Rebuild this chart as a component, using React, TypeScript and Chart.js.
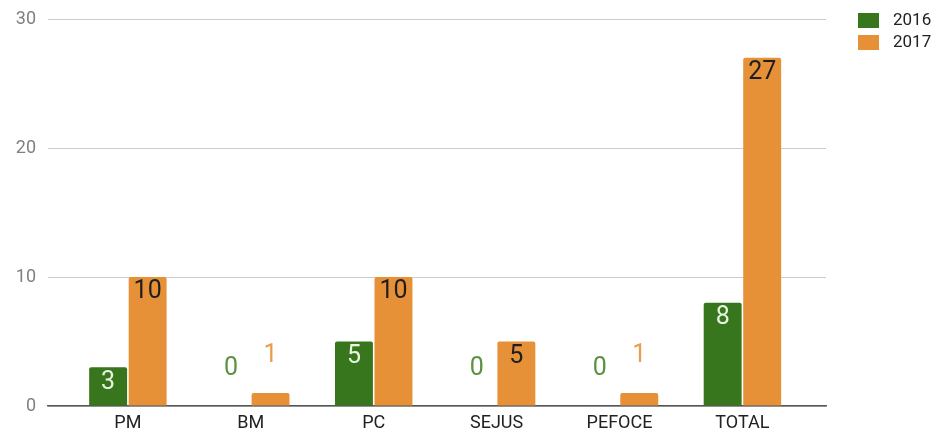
import React, { useEffect, useRef } from "react";
import { Chart, registerables } from "chart.js";

Chart.register(...registerables);

const categories = ["PM", "BM", "PC", "SEJUS", "PEFOCE", "TOTAL"];
const values2016 = [3, 0, 5, 0, 0, 8];
const values2017 = [10, 1, 10, 5, 1, 27];
const seriesNames = ["2016", "2017"];
const yMin = 0;
const yMax = 30;
const yStep = 10;

const barColors = ["#38761d", "#e69138"];
const insideLabelColors = ["#e8f3e0", "#1e1e1e"];
const outsideLabelColors = ["#5b9141", "#eb9d4e"];

const W = 939;
const H = 440;

const valueLabelPlugin = {
  id: "valueLabels",
  afterDatasetsDraw(chart: any) {
    const ctx = chart.ctx;
    chart.data.datasets.forEach((ds: any, di: number) => {
      const meta = chart.getDatasetMeta(di);
      meta.data.forEach((el: any, i: number) => {
        const v = ds.data[i].y;
        const { x, y, base } = el.getProps(["x", "y", "base"], true);
        const h = base - y;
        ctx.save();
        ctx.font = "25px Roboto";
        ctx.textAlign = "center";
        ctx.textBaseline = "middle";
        if (h >= 30) {
          ctx.fillStyle = insideLabelColors[di];
          ctx.fillText(String(v), x, y + 15);
        } else {
          ctx.fillStyle = outsideLabelColors[di];
          ctx.fillText(String(v), x, y - 37);
        }
        ctx.restore();
      });
    });
  },
};

const legendPlugin = {
  id: "customLegend",
  afterDraw(chart: any) {
    const ctx = chart.ctx;
    const { right, top } = chart.chartArea;
    seriesNames.forEach((name, i) => {
      const bx = right + 32;
      const by = top - 6 + i * 22;
      ctx.save();
      ctx.fillStyle = barColors[i];
      ctx.fillRect(bx, by, 21, 15);
      ctx.fillStyle = "#222222";
      ctx.font = "17px Roboto";
      ctx.textAlign = "left";
      ctx.textBaseline = "middle";
      ctx.fillText(name, bx + 35, by + 8);
      ctx.restore();
    });
  },
};

export default function App() {
  const canvasRef = useRef<HTMLCanvasElement | null>(null);

  useEffect(() => {
    if (!canvasRef.current) return;
    Chart.defaults.font.family = "Roboto";
    const seriesValues = [values2016, values2017];
    const chart = new Chart(canvasRef.current, {
      type: "bar",
      data: {
        datasets: seriesNames.map((name, di) => ({
          label: name,
          data: seriesValues[di].map((v, i) => ({ x: i, y: v })),
          backgroundColor: barColors[di],
          borderRadius: 2,
          borderSkipped: "start",
          categoryPercentage: 0.643,
          barPercentage: 0.96,
        })),
      },
      options: {
        responsive: false,
        animation: false,
        layout: { padding: { left: 0, right: 113, top: 19, bottom: 0 } },
        plugins: {
          legend: { display: false },
          tooltip: { enabled: false },
        },
        scales: {
          x: {
            type: "linear",
            min: -0.65,
            max: 5.68,
            offset: false,
            grid: { display: false, drawTicks: false },
            border: { display: true, color: "#555555", width: 1.5 },
            afterBuildTicks: (scale: any) => {
              scale.ticks = categories.map((_, i) => ({ value: i }));
            },
            afterFit: (scale: any) => {
              scale.height = H - 406;
              scale.paddingLeft = 0;
              scale.paddingRight = 0;
            },
            ticks: {
              autoSkip: false,
              maxRotation: 0,
              padding: 7,
              color: "#222222",
              font: { size: 18 },
              callback: (value: any) => categories[value as number] ?? "",
            },
          },
          y: {
            type: "linear",
            min: yMin,
            max: yMax,
            grid: { color: "#cccccc", lineWidth: 1, drawTicks: false },
            border: { display: false },
            afterFit: (scale: any) => {
              scale.width = 48;
              scale.paddingTop = 0;
              scale.paddingBottom = 0;
            },
            ticks: {
              stepSize: yStep,
              padding: 12,
              color: "#808080",
              font: { size: 18 },
            },
          },
        },
      },
      plugins: [valueLabelPlugin, legendPlugin],
    } as any);
    return () => chart.destroy();
  }, []);

  return (
    <div
      style={{
        position: "fixed",
        left: 0,
        top: 0,
        width: W,
        height: H,
        overflow: "hidden",
        background: "#ffffff",
      }}
    >
      <canvas ref={canvasRef} width={W} height={H} />
    </div>
  );
}
